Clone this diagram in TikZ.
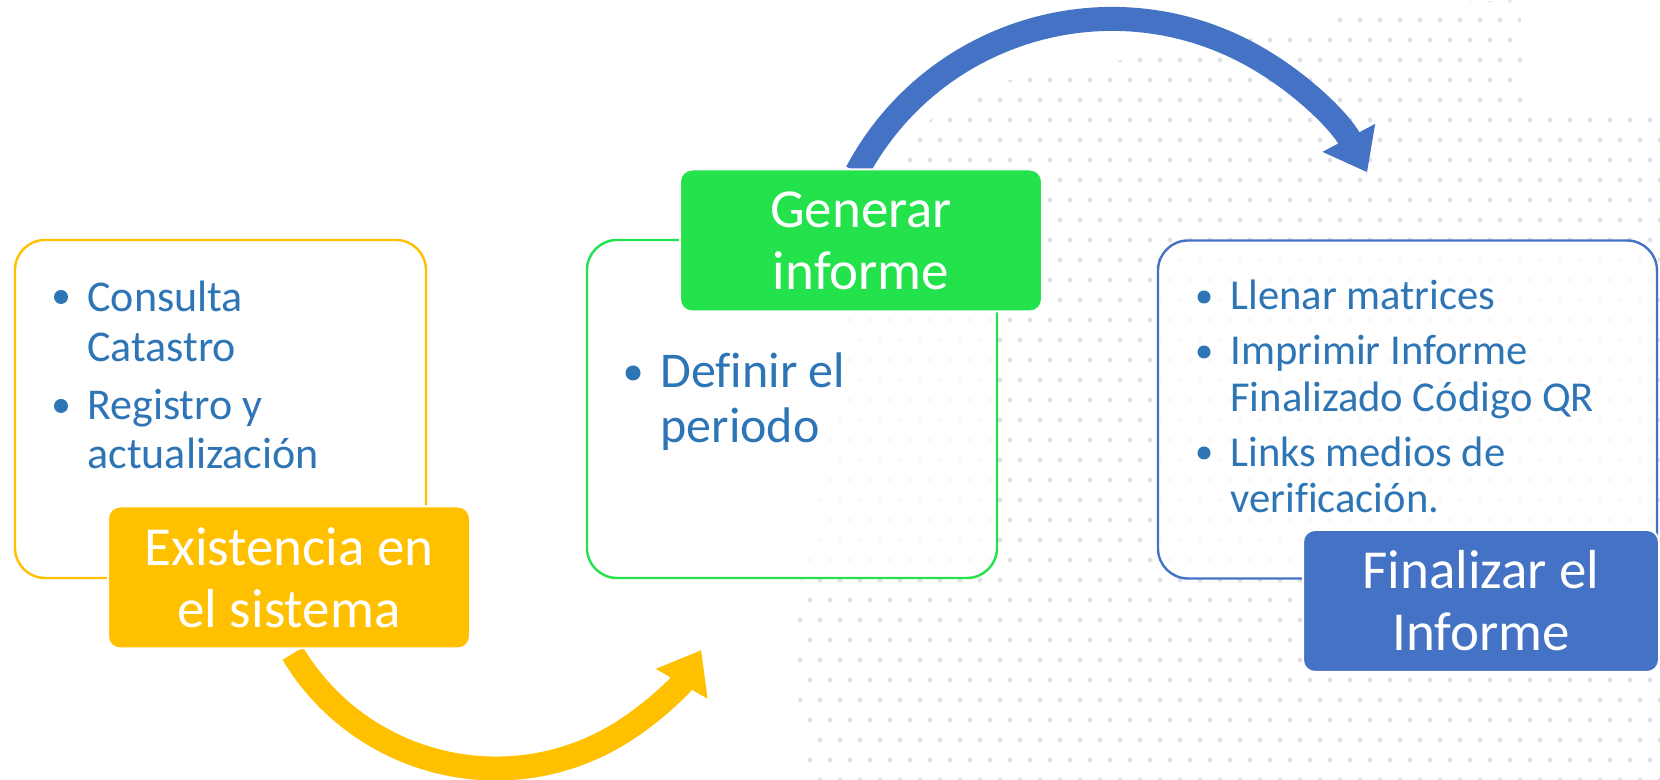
\documentclass[tikz,border=0pt]{standalone}
\usepackage{fontspec}
\setmainfont{Carlito}[Ligatures=CommonOff]
\usetikzlibrary{arrows.meta,calc,backgrounds}
\definecolor{ygold}{HTML}{FFC000}
\definecolor{ggreen}{HTML}{24E24C}
\definecolor{bblue}{HTML}{4472C4}
\definecolor{txtblue}{HTML}{2E75B6}
\definecolor{speck}{RGB}{224,226,232}

\begin{document}
\begin{tikzpicture}[
        x=0.5pt, y=0.5pt,
        outline/.style={rectangle, rounded corners=15pt, fill=white, fill opacity=0.85, line width=1.2pt, minimum height=169pt},
        title/.style={rectangle, rounded corners=6pt, draw=white, line width=1pt, text=white, align=center, minimum width=181pt, minimum height=71pt, font=\fontsize{27.5pt}{31pt}\selectfont},
        item/.style={anchor=base west, inner sep=0pt, text=txtblue},
        dot/.style={circle, fill=txtblue, inner sep=0pt},
        flow/.style={line width=12pt, -{Triangle[width=28.5pt, length=19.5pt]}}
    ]
        \useasboundingbox (0,0) rectangle (1660,780);

        % ========== DOTTED BACKGROUND ==========
        \begin{pgfonlayer}{background}
            \fill[white] (0,0) rectangle (1660,780);
            \begin{scope}
                \clip (880,580) -- (930,660) -- (1010,700) -- (1150,725) -- (1300,750) -- (1380,775) -- (1520,780) -- (1525,670) -- (1660,665) -- (1660,0) -- (810,0) -- (790,140) -- (820,300) -- (850,480) -- cycle;
                \foreach \r in {0,...,39}
                    \foreach \c in {0,...,43}
                        \fill[speck] ({800+20*\c+10*mod(\r,2)},{20*\r}) circle (1.25pt);
            \end{scope}
        \end{pgfonlayer}

        % ========== OUTLINE BOXES ==========
        \node[outline, draw=ygold, minimum width=205.5pt] (catbox) at (220.5,371) {};
        \node[outline, draw=ggreen, minimum width=205pt] (genbox) at (792,371) {};
        \node[outline, draw=bblue, minimum width=249.5pt] (finbox) at (1407.5,370.5) {};

        % ========== TITLES ==========
        \node[title, fill=ygold] (exist) at (289,202.5) {Existencia en\\el sistema};
        \node[title, fill=ggreen] (gen) at (861,539.5) {Generar\\informe};
        \node[title, fill=bblue, minimum width=178pt] (fin) at (1481,179) {Finalizar el\\Informe};

        % ========== BULLETS ==========
        \node[dot, minimum size=7pt] (d1) at (61,483) {};
        \node[item, font=\fontsize{22pt}{25pt}\selectfont] (t1) at (87,468) {\parbox[t]{200pt}{Consulta\\Catastro}};
        \node[dot, minimum size=7pt] (d2) at (61,374) {};
        \node[item, font=\fontsize{22pt}{24.5pt}\selectfont] (t2) at (87,360) {\parbox[t]{200pt}{Registro y\\actualización}};

        \node[dot, minimum size=7.5pt] (d3) at (633,407) {};
        \node[item, font=\fontsize{25pt}{27.5pt}\selectfont] (t3) at (660,392) {\parbox[t]{180pt}{Definir el\\periodo}};

        \node[dot, minimum size=6.5pt] (d4) at (1204,483) {};
        \node[item, font=\fontsize{21.3pt}{23.5pt}\selectfont] (t4) at (1230,470) {Llenar matrices};
        \node[dot, minimum size=6.5pt] (d5) at (1204,428) {};
        \node[item, font=\fontsize{21.3pt}{23.5pt}\selectfont] (t5) at (1230,415) {\parbox[t]{200pt}{Imprimir Informe\\Finalizado Código QR}};
        \node[dot, minimum size=6.5pt] (d6) at (1204,327) {};
        \node[item, font=\fontsize{21.3pt}{23pt}\selectfont] (t6) at (1230,313) {\parbox[t]{200pt}{Links medios de\\verificación.}};

        % ========== ARROWS ==========
        \begin{pgfonlayer}{background}
            \coordinate (ytail) at ($(exist.south)+(3.8,-4.1)$);
            \coordinate (btail) at ($(gen.north)+(-4.2,-3.8)$);
            \draw[flow, ygold] (ytail) arc[start angle=-149, end angle=-30, radius=237];
            \draw[flow, bblue] (btail) arc[start angle=152, end angle=28, radius=289];
        \end{pgfonlayer}

    \end{tikzpicture}
\end{document}
